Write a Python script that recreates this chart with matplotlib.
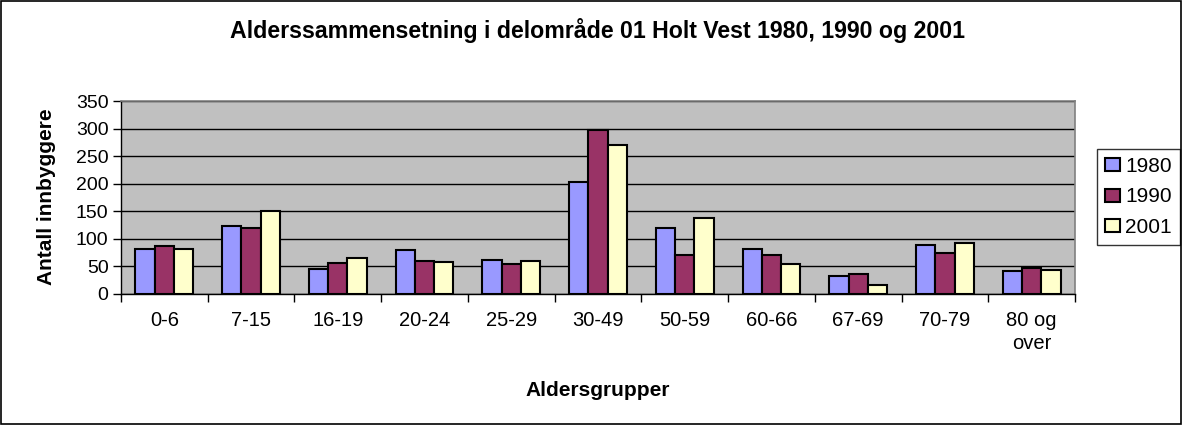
import matplotlib
matplotlib.use("Agg")
import matplotlib.pyplot as plt
import numpy as np
from matplotlib.patches import Rectangle

categories = ["0-6", "7-15", "16-19", "20-24", "25-29", "30-49", "50-59",
              "60-66", "67-69", "70-79", "80 og\nover"]
series_names = ["1980", "1990", "2001"]
v1980 = [82, 124, 45, 80, 61, 203, 120, 81, 33, 88, 42]
v1990 = [87, 119, 56, 60, 54, 297, 71, 71, 36, 74, 47]
v2001 = [82, 151, 66, 58, 60, 271, 137, 55, 16, 93, 43]
colors = ["#9999FF", "#993366", "#FFFFCC"]
yticks = [0, 50, 100, 150, 200, 250, 300, 350]

plt.rcParams['font.family'] = ['Liberation Sans', 'DejaVu Sans']

fig = plt.figure(figsize=(11.82, 4.25), dpi=100)
fig.patches.append(Rectangle((0.001, 0.002), 0.998, 0.996, transform=fig.transFigure,
                             fill=False, edgecolor='black', linewidth=1.2))
ax = fig.add_axes([121/1182, 1-294/425, (1075-121)/1182, (294-101)/425])
ax.set_facecolor("#C0C0C0")

x = np.arange(len(categories))
bw = 1/4.5
for i, (vals, name) in enumerate(zip([v1980, v1990, v2001], series_names)):
    ax.bar(x + (i-1)*bw, vals, width=bw, color=colors[i], edgecolor='black',
           linewidth=1.5, label=name, zorder=3)

ax.set_xlim(-0.5, len(categories)-0.5)
ax.set_ylim(0, 350)
ax.set_yticks(yticks)
ax.yaxis.grid(True, color='black', linewidth=1.0, zorder=1)
ax.set_axisbelow(True)
ax.set_xticks(x)
ax.set_xticklabels(categories, fontsize=14.5, linespacing=1.3)
ax.set_xticks(np.arange(-0.5, len(categories)), minor=True)
ax.tick_params(axis='x', which='major', length=0, pad=12)
ax.tick_params(axis='x', which='minor', length=6, width=1, direction='out')
ax.tick_params(axis='y', labelsize=14, length=6, width=1, direction='out', pad=3)

for s in ['top', 'right']:
    ax.spines[s].set_color('#808080')
    ax.spines[s].set_linewidth(1.2)
for s in ['left', 'bottom']:
    ax.spines[s].set_color('black')
    ax.spines[s].set_linewidth(1.0)

ax.set_xlabel("Aldersgrupper", fontsize=15, fontweight='bold')
ax.xaxis.set_label_coords(598/1182, 1-390/425, transform=fig.transFigure)
ax.xaxis.label.set_va('center')
ax.set_ylabel("Antall innbyggere", fontsize=15, fontweight='bold')
ax.yaxis.set_label_coords(47/1182, 1-197/425, transform=fig.transFigure)
ax.yaxis.label.set_va('center')
fig.text(597/1182, 1-38/425, "Alderssammensetning i delområde 01 Holt Vest 1980, 1990 og 2001",
         ha='center', va='baseline', fontsize=16.7, fontweight='bold')

leg = ax.legend(loc='center left', bbox_to_anchor=(1097/1182, 1-197/425),
                bbox_transform=fig.transFigure, fontsize=15, frameon=True,
                fancybox=False, edgecolor='black', handlelength=0.7, handleheight=0.6,
                handletextpad=0.25, borderpad=0.4, labelspacing=0.55, borderaxespad=0)
leg.get_frame().set_linewidth(1.0)

fig.savefig("out.png", dpi=100)
